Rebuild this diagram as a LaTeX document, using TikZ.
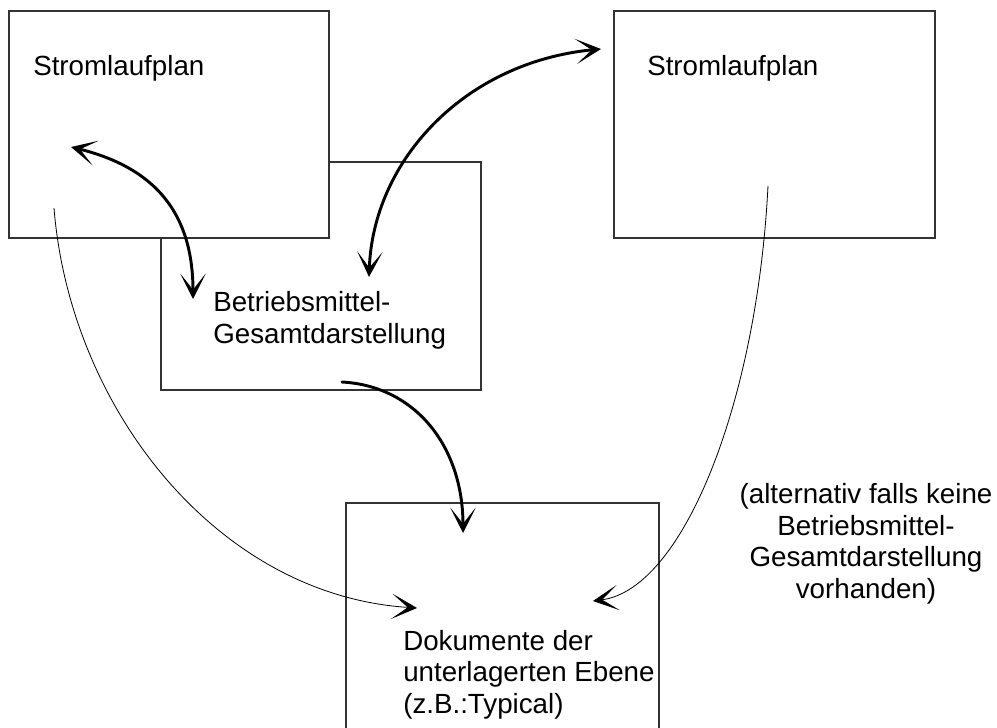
\documentclass[tikz,border=0pt]{standalone}
\usepackage{fontspec}
\setmainfont{Liberation Sans}
\usetikzlibrary{arrows.meta}
\begin{document}
\begin{tikzpicture}[x=0.75pt, y=-0.75pt,
  sheet/.style={draw=black!80, line width=0.8pt, fill=white, inner sep=0pt, outer sep=0pt},
  % multi-line texts are placed by the baseline of their last line
  boxtext/.style={font=\fontsize{20.8}{23.6}\selectfont, inner sep=0pt, align=left, anchor=base west},
  note/.style={font=\fontsize{20.8}{23.6}\selectfont, inner sep=0pt, align=center, anchor=base},
  link/.style={line width=2.2pt, line cap=round, black},
  thinlink/.style={line width=0.6pt, black},
  >={Stealth[length=19pt, width=19pt, inset=12pt]},
]
\useasboundingbox (0,0) rectangle (997,728);
\clip (0,0) rectangle (997,728);

% document sheets (the overview sheet lies under the left circuit diagram)
\node[sheet, minimum width=240pt,    minimum height=171pt]    (betrieb) at (321,276)     {};
\node[sheet, minimum width=240pt,    minimum height=170.25pt] (slp1)    at (169,124.5)   {};
\node[sheet, minimum width=240.75pt, minimum height=170.25pt] (slp2)    at (774.5,124.5) {};
\node[sheet, minimum width=234.75pt, minimum height=200pt]    (doku)    at (502.5,636.3) {};

% sheet titles
\node[boxtext] (slp1-t)    at (33,75)   {Stromlaufplan};
\node[boxtext] (slp2-t)    at (647,75)  {Stromlaufplan};
\node[boxtext] (betrieb-t) at (213,343) {Betriebsmittel-\\Gesamtdarstellung};
\node[boxtext] (doku-t)    at (403,713) {Dokumente der\\unterlagerten Ebene\\(z.B.:Typical)};
\node[note]    (alt)       at (866,598) {(alternativ falls keine\\Betriebsmittel-\\Gesamtdarstellung\\vorhanden)};

% connector end points inside the sheets
\coordinate (slp1-a)    at (71,147);
\coordinate (betrieb-a) at (193,299);
\coordinate (betrieb-b) at (369,277);
\coordinate (slp2-a)    at (601,49);
\coordinate (betrieb-c) at (342,382);
\coordinate (doku-a)    at (463,533);
\coordinate (slp1-b)    at (54,208);
\coordinate (doku-b)    at (417,608);
\coordinate (slp2-b)    at (768,186);
\coordinate (doku-c)    at (593,601);

% references between the sheets
\draw[link, <->] (slp1-a) .. controls (156,168) and (193,214) .. (betrieb-a);
\draw[link, <->] (betrieb-b) .. controls (373,160) and (465,62) .. (slp2-a);
\draw[link, ->] (betrieb-c) .. controls (415,386) and (463,446) .. (doku-a);
\draw[thinlink, ->] (slp1-b) .. controls (70,408) and (217,595) .. (doku-b);
\draw[thinlink, ->] (slp2-b) .. controls (757,403) and (683,589) .. (doku-c);
\end{tikzpicture}
\end{document}
